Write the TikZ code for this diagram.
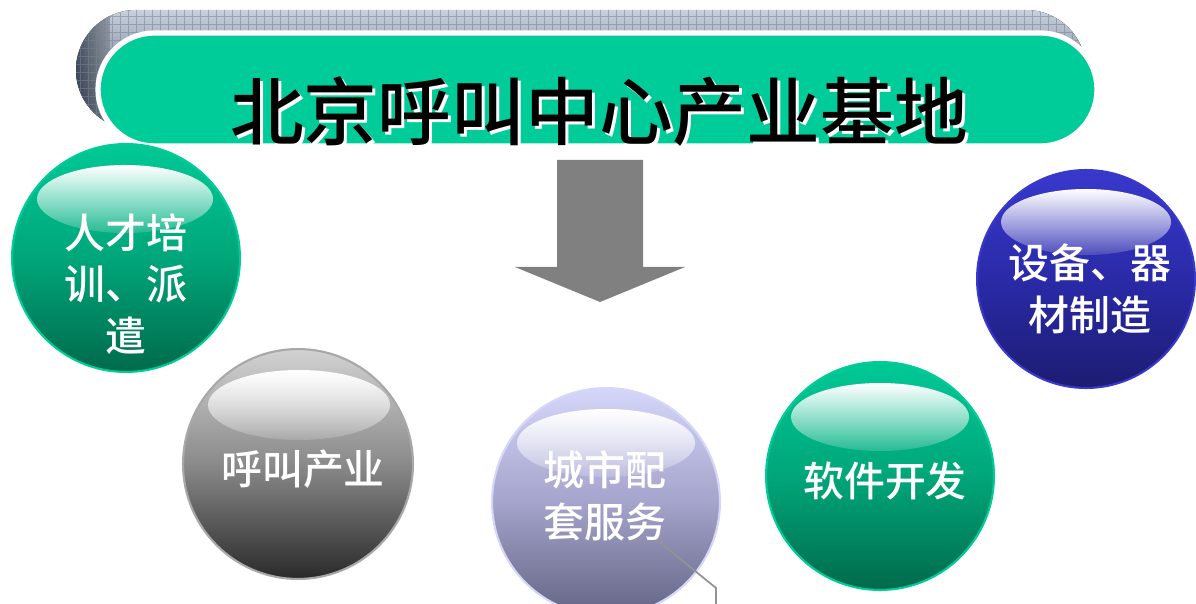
\documentclass[tikz,border=0pt]{standalone}
\usepackage{fontspec}
\newfontfamily\cjk{Noto Sans CJK SC}[UprightFont={* Medium}]
\usetikzlibrary{fadings,shapes.geometric}
\definecolor{teal1}{HTML}{00CC99}
\definecolor{gtop}{HTML}{00C995}
\definecolor{gmid}{HTML}{00A67A}
\definecolor{gbot}{HTML}{006A4B}
\definecolor{grtop}{HTML}{D2D2D2}
\definecolor{grmid}{HTML}{8A8A8A}
\definecolor{grbot}{HTML}{2A2A2A}
\definecolor{ltop}{HTML}{D6D6FA}
\definecolor{lmid}{HTML}{A4A4CC}
\definecolor{lbot}{HTML}{646484}
\definecolor{btop}{HTML}{3838CC}
\definecolor{bmid}{HTML}{2A2AA8}
\definecolor{bbot}{HTML}{1C1C72}
\definecolor{slate1}{HTML}{C8D1DD}
\definecolor{slate2}{HTML}{3C4C64}
\definecolor{arrowgrey}{HTML}{808080}
\tikzfading[name=glossfade, top color=transparent!0, bottom color=transparent!85]
\begin{document}
\begin{tikzpicture}[x=0.02cm,y=-0.02cm,
  ball/.style={circle, inner sep=0pt, minimum size=#1*0.04cm},
  balltext/.style={text=white, font=\cjk\fontsize{23.3}{29.5}\selectfont, align=center, inner sep=0pt},
  gloss/.style={fill=white, path fading=glossfade},
  title/.style={font=\cjk\fontsize{42}{42}\selectfont, inner sep=0pt}
]
\useasboundingbox (0,0) rectangle (1196,604);
\fill[white] (0,0) rectangle (1196,604);

% banner back
\begin{scope}
  \clip[rounded corners=1.2cm] (76,10) rectangle (1086,130);
  \fill[top color=slate1, bottom color=slate2] (76,10) rectangle (1086,130);
  \fill[left color=slate2, right color=slate1, fill opacity=0.5] (76,10) rectangle (110,130);
  \draw[slate2!70, opacity=0.55, line width=0.3pt, step=0.16cm] (70,0) grid (1090,135);
\end{scope}
% banner front
\node[draw=white, line width=3pt, fill=teal1, rounded corners=1.13cm, minimum width=999*0.02cm, minimum height=113*0.02cm, inner sep=0pt] (banner) at (597.5,89.5) {};
\node[title, text=white] (titleshadow) at (602,114) {北京呼叫中心产业基地};
\node[title, text=black] (title) at (599,111) {北京呼叫中心产业基地};

% arrow
\fill[arrowgrey] (557,160) -- (643,160) -- (643,267) -- (685,267) -- (600,302) -- (515,267) -- (557,267) -- cycle;

% ball 1
\node[ball=114, top color=gtop, bottom color=gbot, middle color=gmid, draw=teal1, line width=1.2pt] (c1) at (126,258) {};
\fill[gloss] (125,199) ellipse [x radius=88, y radius=34];
\node[balltext] (t1) at (126,284) {人才培\\训、派\\遣};

% ball 2
\node[ball=115, top color=grtop, bottom color=grbot, middle color=grmid, draw=grtop!80!black, line width=1.2pt] (c2) at (298,464) {};
\fill[gloss] (299,405) ellipse [x radius=91, y radius=35];
\node[balltext] (t2) at (303,469) {呼叫产业};

% ball 3
\node[ball=114, top color=ltop, bottom color=lbot, middle color=lmid, draw=ltop, line width=1.2pt] (c3) at (606,502) {};
\fill[gloss] (606,443) ellipse [x radius=89, y radius=34];
\node[balltext] (t3) at (605,496) {城市配\\套服务};

% ball 4
\node[ball=114, top color=gtop, bottom color=gbot, middle color=gmid, draw=teal1, line width=1.2pt] (c4) at (880,476) {};
\fill[gloss] (880,417) ellipse [x radius=89, y radius=34];
\node[balltext] (t4) at (885,481) {软件开发};

% ball 5
\node[ball=109, top color=btop, bottom color=bbot, middle color=bmid, draw=btop, line width=1.2pt] (c5) at (1086,279) {};
\fill[gloss] (1086,222) ellipse [x radius=85, y radius=33];
\node[balltext] (t5) at (1090,289) {设备、器\\材制造};

% callout line
\coordinate (l1) at (657,540);
\coordinate (l2) at (716,588);
\coordinate (l3) at (716,604);
\draw[grtop!70!black, line width=1pt] (l1) -- (l2) -- (l3);
\end{tikzpicture}
\end{document}
